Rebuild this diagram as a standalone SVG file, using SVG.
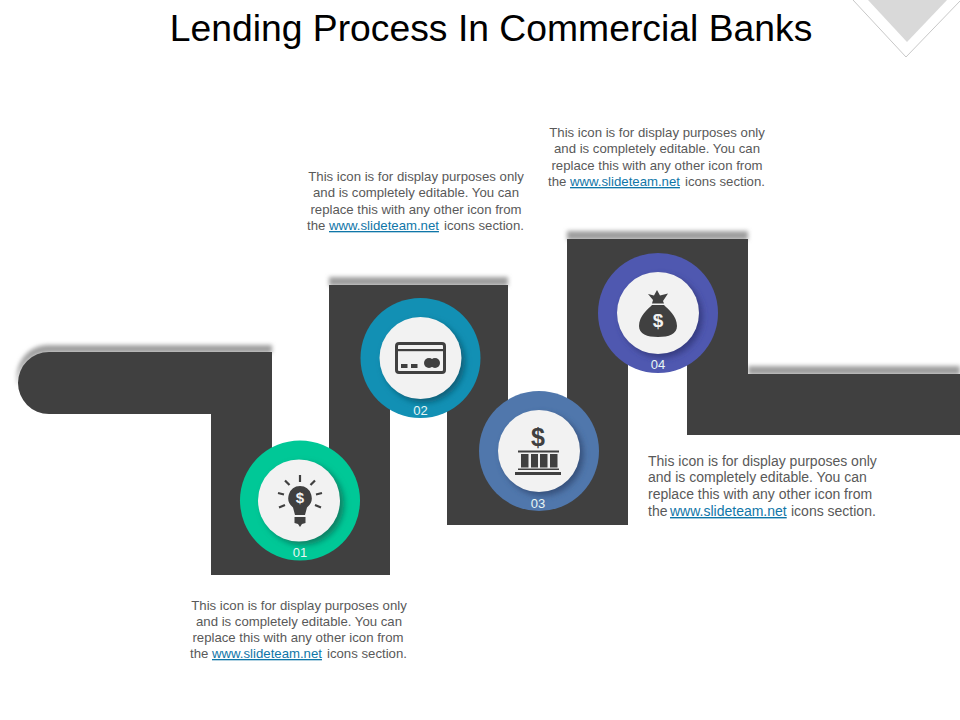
<svg xmlns="http://www.w3.org/2000/svg" width="960" height="720" viewBox="0 0 960 720">
<style>
text{font-family:"Liberation Sans",Arial,sans-serif}
.t{font-size:13.200px;fill:#595959;text-anchor:middle}
.tl{font-size:14px;fill:#595959}
.s{font-size:13.200px;fill:#595959}
.a{fill:#0f76a8;text-decoration:underline}
.n{font-size:13px;fill:#e8f6f4;text-anchor:middle}
.d{fill:#404040}
.ic{fill:#404040}
.w{fill:#f2f2f2}
</style>
<defs>
<filter id="b" x="-10%" y="-100%" width="120%" height="300%"><feGaussianBlur stdDeviation="2"/></filter>
<filter id="sh" x="-30%" y="-30%" width="160%" height="160%"><feGaussianBlur stdDeviation="3"/></filter>
</defs>
<rect width="960" height="720" fill="#fff"/>
<g id="corner">
<polygon points="868,0 947,0 907,42" fill="#d9d9d9"/>
<polyline points="853,0 906,57 960,1" fill="none" stroke="#c8c8c8" stroke-width="1"/>
</g>
<text x="491" y="41" font-size="37.300" fill="#000" text-anchor="middle">Lending Process In Commercial Banks</text>
<g id="ribbon">
<g fill="#9e9e9e" filter="url(#b)">
<path d="M49 345H272V353H49A31 31 0 0 0 18 384H17V376A31 31 0 0 1 49 345Z"/>
<rect x="329" y="277" width="179" height="9"/>
<rect x="567" y="231" width="181" height="9"/>
<rect x="748" y="366" width="212" height="9"/>
</g>
<path class="d" d="M49 352H272V520H329V285H508V450H567V239H748V374H960V435H687V340H628V525H447V370H390V575H211V414H49A31 31 0 0 1 49 352Z"/>
</g>
<g id="node-01">
<circle cx="300" cy="500.500" r="60" fill="#00c897"/>
<circle cx="303" cy="504" r="41" fill="#0a7f63" filter="url(#sh)"/>
<circle cx="299" cy="500.500" r="41" class="w"/>
<g fill="none" stroke="#404040" stroke-width="2.200">
<path d="M300 475V482M285 480.500L289.500 485M315 480.500L310.500 485M278 493L284 494.500M322 493L316 494.500M279 507.500L285 505M321 507.500L315 505"/>
</g>
<path class="ic" d="M300 486A12 12 0 0 1 307 507.500L305 515H295L293 507.500A12 12 0 0 1 300 486Z"/>
<path class="ic" d="M294.500 517H305.500V523L302 524L300 527L298 524L294.500 523Z"/>
<text x="300" y="503" font-size="15" font-weight="bold" text-anchor="middle" fill="#f2f2f2">$</text>
<text x="300" y="557" class="n">01</text>
</g>
<g id="node-02">
<circle cx="420.500" cy="358" r="60" fill="#1290b4"/>
<circle cx="424" cy="361.500" r="41" fill="#0b5f78" filter="url(#sh)"/>
<circle cx="420.500" cy="358" r="41" class="w"/>
<rect x="396.500" y="343.500" width="48" height="29" rx="2.500" fill="none" stroke="#404040" stroke-width="3"/>
<rect x="396" y="349" width="49" height="2.200" class="ic"/>
<rect x="401" y="364" width="6.500" height="4" class="ic"/>
<rect x="411" y="364" width="6.500" height="4" class="ic"/>
<circle cx="429" cy="363" r="5" class="ic"/>
<circle cx="435" cy="363" r="5" class="ic"/>
<text x="420.500" y="415" class="n">02</text>
</g>
<g id="node-03">
<circle cx="539" cy="451" r="60" fill="#5077ac"/>
<circle cx="542.500" cy="454.500" r="41" fill="#34507a" filter="url(#sh)"/>
<circle cx="539" cy="451" r="41" class="w"/>
<text x="538" y="446" font-size="25" font-weight="bold" text-anchor="middle" fill="#404040">$</text>
<rect x="518" y="450.500" width="41" height="2" class="ic"/>
<rect x="521" y="454" width="7.500" height="13.500" class="ic"/>
<rect x="531" y="454" width="7" height="13.500" class="ic"/>
<rect x="540" y="454" width="7.500" height="13.500" class="ic"/>
<rect x="550" y="454" width="7.500" height="13.500" class="ic"/>
<rect x="518" y="468.500" width="41" height="1.500" class="ic"/>
<rect x="515" y="472" width="46" height="3" class="ic"/>
<text x="538" y="508" class="n">03</text>
</g>
<g id="node-04">
<circle cx="658" cy="313" r="60" fill="#4f58b0"/>
<circle cx="661.500" cy="316.500" r="41" fill="#343a80" filter="url(#sh)"/>
<circle cx="658" cy="313" r="41" class="w"/>
<path class="ic" d="M648 294L654 295.500L657 290L660 295.500L668 293.500L663 301L664 303.500L652 303.500L653 300Z"/>
<path class="ic" d="M652 305H664C668 309 677 316 677 326C677 334 669 337 658 337C647 337 639 334 639 326C639 316 648 309 652 305Z"/>
<text x="658" y="327" font-size="19" font-weight="bold" text-anchor="middle" fill="#f2f2f2">$</text>
<text x="658" y="369" class="n">04</text>
</g>
<g id="text-01">
<text x="299" y="610" class="t">This icon is for display purposes only</text>
<text x="299" y="626" class="t">and is completely editable. You can</text>
<text x="298" y="642" class="t">replace this with any other icon from</text>
<text y="658" class="s"><tspan x="190">the</tspan><tspan x="212" class="a">www.slideteam.net</tspan><tspan x="327">icons section.</tspan></text>
</g>
<g id="text-02">
<text x="416" y="181" class="t">This icon is for display purposes only</text>
<text x="416" y="197" class="t">and is completely editable. You can</text>
<text x="416" y="214" class="t">replace this with any other icon from</text>
<text y="230" class="s"><tspan x="307">the</tspan><tspan x="329" class="a">www.slideteam.net</tspan><tspan x="444">icons section.</tspan></text>
</g>
<g id="text-03">
<text x="657" y="137" class="t">This icon is for display purposes only</text>
<text x="657" y="153" class="t">and is completely editable. You can</text>
<text x="657" y="170" class="t">replace this with any other icon from</text>
<text y="186" class="s"><tspan x="548">the</tspan><tspan x="570" class="a">www.slideteam.net</tspan><tspan x="685">icons section.</tspan></text>
</g>
<g id="text-04">
<text x="648" y="466" class="tl">This icon is for display purposes only</text>
<text x="648" y="482" class="tl">and is completely editable. You can</text>
<text x="648" y="499" class="tl">replace this with any other icon from</text>
<text y="516" class="tl"><tspan x="648">the</tspan><tspan x="670" class="a">www.slideteam.net</tspan><tspan x="791">icons section.</tspan></text>
</g>
</svg>
